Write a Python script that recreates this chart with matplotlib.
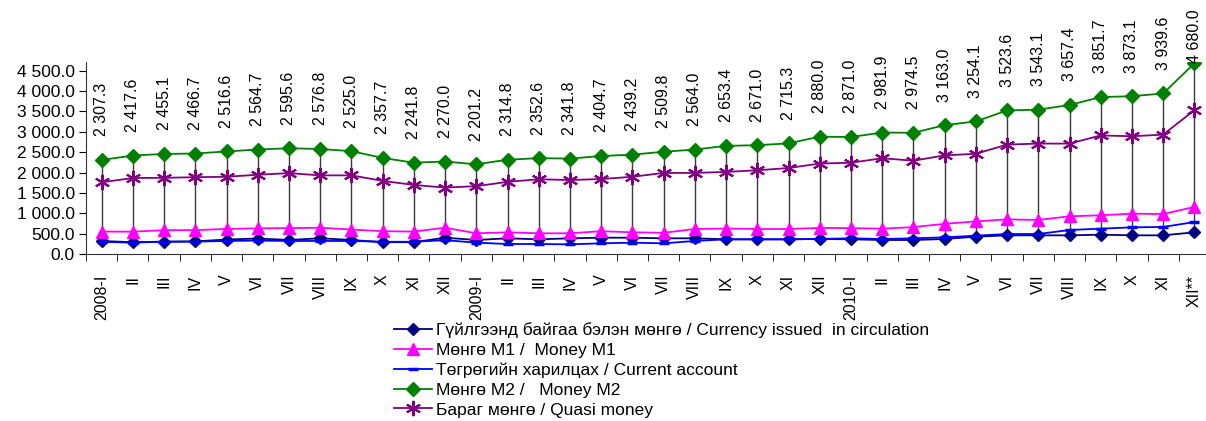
import numpy as np
import matplotlib.pyplot as plt
from matplotlib.ticker import FuncFormatter, FixedLocator

plt.rcParams['font.family'] = ['Liberation Sans', 'DejaVu Sans']

# month labels 2008-I .. 2010-XII**
months = ['I', 'II', 'III', 'IV', 'V', 'VI', 'VII', 'VIII', 'IX', 'X', 'XI', 'XII']
labels = (['2008-I'] + months[1:] + ['2009-I'] + months[1:] + ['2010-I'] + months[1:11] + ['XII**'])

# series values (bn tugrik)
currency = [319, 290, 303, 310, 355, 380, 345, 385, 345, 290, 290, 400,
            344, 385, 360, 385, 400, 400, 385, 385, 360, 360, 360, 370,
            360, 344, 344, 368, 425, 458, 458, 458, 474, 458, 458, 532]
money_m1 = [550, 548, 585, 585, 615, 630, 635, 645, 600, 560, 550, 645,
            508, 532, 508, 508, 560, 532, 520, 614, 625, 614, 614, 640,
            635, 622, 660, 740, 800, 850, 835, 925, 950, 990, 980, 1155]
current_acc = [300, 278, 303, 303, 320, 330, 320, 320, 320, 300, 300, 340,
               278, 245, 245, 237, 262, 278, 262, 320, 360, 360, 360, 370,
               385, 368, 385, 409, 450, 491, 491, 589, 622, 654, 663, 785]
money_m2 = [2307.3, 2417.6, 2455.1, 2466.7, 2516.6, 2564.7, 2595.6, 2576.8, 2525.0, 2357.7, 2241.8, 2270.0,
            2201.2, 2314.8, 2352.6, 2341.8, 2404.7, 2439.2, 2509.8, 2564.0, 2653.4, 2671.0, 2715.3, 2880.0,
            2871.0, 2981.9, 2974.5, 3163.0, 3254.1, 3523.6, 3543.1, 3657.4, 3851.7, 3873.1, 3939.6, 4680.0]
quasi = [1760, 1865, 1870, 1885, 1895, 1945, 1985, 1930, 1930, 1795, 1695, 1630,
         1665, 1770, 1835, 1815, 1840, 1895, 1990, 1990, 2015, 2055, 2110, 2220,
         2240, 2350, 2290, 2420, 2460, 2685, 2710, 2710, 2910, 2890, 2930, 3530]

legend_names = ['Гүйлгээнд байгаа бэлэн мөнгө / Currency issued  in circulation',
                'Мөнгө М1 /  Money M1',
                'Төгрөгийн харилцах / Current account',
                'Мөнгө М2 /   Money M2',
                'Бараг мөнгө / Quasi money']

x = np.arange(len(labels))

fig = plt.figure(figsize=(12.06, 4.21), dpi=100)
ax = fig.add_axes([86/1206, 167/421, (1210-86)/1206, (254-61.7)/421])

# high-low lines
lows = np.min([currency, money_m1, current_acc, money_m2, quasi], axis=0)
ax.vlines(x, lows, money_m2, color='#3a3a3a', lw=1.0, zorder=1)

ax.plot(x, currency, color='#000080', marker='D', ms=6.5, lw=1.3, label=legend_names[0], zorder=3)
ax.plot(x, money_m1, color='#FF00FF', marker='^', ms=9, lw=1.3, label=legend_names[1], zorder=3)
ax.plot(x, current_acc, color='#0000FF', marker='_', ms=7, mew=2.5, lw=1.3, label=legend_names[2], zorder=3)
ax.plot(x, money_m2, color='#008000', marker='D', ms=7, lw=1.3, label=legend_names[3], zorder=3)
ax.plot(x, quasi, color='#800080', marker=(6, 2, 0), ms=11, mew=1.5, lw=1.3, label=legend_names[4], zorder=3)

# M2 value labels
for i, v in enumerate(money_m2):
    s = '{:,.1f}'.format(v).replace(',', ' ')
    off = 0 if i == len(money_m2) - 1 else 17
    ax.annotate(s, (i, v), xytext=(0, off), textcoords='offset points',
                rotation=90, ha='center', va='bottom', fontsize=11.5)

ax.set_xlim(-0.5, len(labels) - 0.5)
ax.set_ylim(0, 4720)
ax.set_yticks(np.arange(0, 4501, 500))
ax.yaxis.set_major_formatter(FuncFormatter(lambda v, p: '{:,.1f}'.format(v).replace(',', ' ')))
ax.tick_params(axis='y', labelsize=12.5, direction='out', length=5, pad=3)

ax.set_xticks(x)
ax.set_xticklabels(labels, rotation=90, fontsize=11.5)
ax.tick_params(axis='x', which='major', length=0, pad=15)
ax.xaxis.set_minor_locator(FixedLocator(np.arange(-0.5, len(labels), 1)))
ax.tick_params(axis='x', which='minor', length=5, direction='out')

for sp in ['top', 'right']:
    ax.spines[sp].set_visible(False)
ax.spines['left'].set_color('#333333')
ax.spines['bottom'].set_color('#333333')

fig.legend(loc='upper left', bbox_to_anchor=(394/1206, 1 - 322/421), frameon=False,
           fontsize=12.5, handlelength=2.2, handletextpad=0.2, labelspacing=0.27,
           borderaxespad=0, borderpad=0)

fig.savefig('out.png', dpi=100)
